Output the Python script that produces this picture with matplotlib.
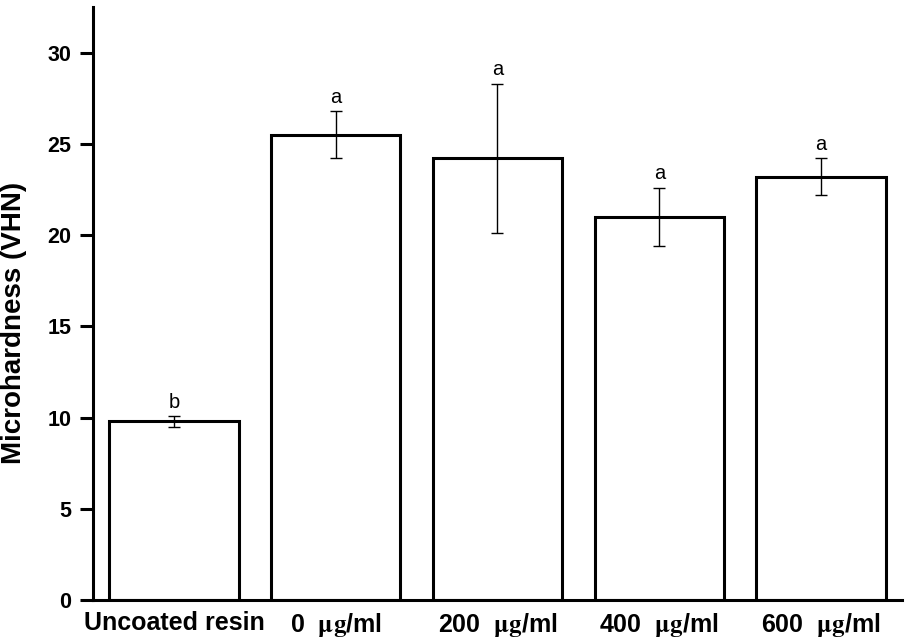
import numpy as np
import matplotlib
matplotlib.use("Agg")
import matplotlib.pyplot as plt

plt.rcParams["font.family"] = ["Liberation Sans", "DejaVu Sans"]
plt.rcParams["mathtext.fontset"] = "stix"

# data
groups = ["Uncoated resin", r"0  $\mathbf{\mu g}$/ml", r"200  $\mathbf{\mu g}$/ml",
          r"400  $\mathbf{\mu g}$/ml", r"600  $\mathbf{\mu g}$/ml"]
hardness = [9.8, 25.5, 24.2, 21.0, 23.2]
sd = [0.3, 1.3, 4.1, 1.6, 1.0]
letters = ["b", "a", "a", "a", "a"]
yticks = [0, 5, 10, 15, 20, 25, 30]

fig = plt.figure(figsize=(9.1, 6.42), dpi=100)
ax = fig.add_axes([93 / 910, 1 - 600 / 642, (902 - 93) / 910, (600 - 7) / 642])

x = np.arange(len(groups))
ax.bar(x, hardness, width=0.8, color="white", edgecolor="black", linewidth=2.2, zorder=2)
ax.errorbar(x, hardness, yerr=sd, fmt="none", ecolor="black", elinewidth=1.0,
            capsize=4.3, capthick=1.0, zorder=3)

for xi, h, e, lab in zip(x, hardness, sd, letters):
    ax.annotate(lab, (xi, h + e), xytext=(0, 3), textcoords="offset points",
                ha="center", va="bottom", fontsize=14.5)

ax.set_xlim(-0.5, 4.5)
ax.set_ylim(0, 32.5)
ax.set_yticks(yticks)
ax.set_xticks(x)
ax.set_xticklabels(groups, fontsize=18, fontweight="bold")
ax.tick_params(axis="y", length=9.4, width=2.2, pad=6, labelsize=15.5)
ax.tick_params(axis="x", length=0, pad=8)
for t in ax.get_yticklabels():
    t.set_fontweight("bold")

for s in ["top", "right"]:
    ax.spines[s].set_visible(False)
for s in ["left", "bottom"]:
    ax.spines[s].set_linewidth(2.2)

ax.set_ylabel("Microhardness (VHN)", fontsize=20, fontweight="bold")
ax.yaxis.set_label_coords(-0.082, 0.467)

fig.savefig("out.png", dpi=100)
